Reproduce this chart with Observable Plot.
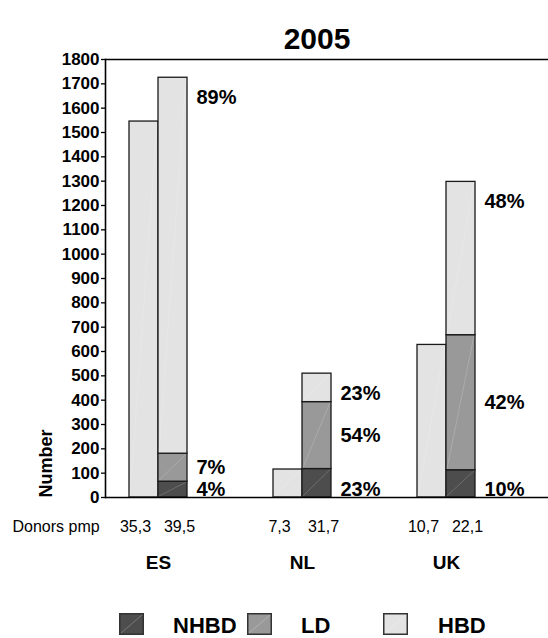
<!DOCTYPE html>
<html>
<head>
<meta charset="utf-8">
<script src="https://cdn.jsdelivr.net/npm/d3@7"></script>
<script src="https://cdn.jsdelivr.net/npm/@observablehq/plot@0.6"></script>
<style>
  html, body { margin: 0; padding: 0; background: #fff; }
  body { width: 548px; height: 638px; overflow: hidden; font-family: "Liberation Sans", Arial, sans-serif; }
  #legend { position: relative; width: 548px; height: 38px; }
  #legend .sw { position: absolute; top: 13px; width: 25px; height: 22px; }
  #legend .lb { position: absolute; top: 15px; font-size: 22px; font-weight: bold; line-height: 22px; color: #000; }
</style>
</head>
<body>
<div id="chart"></div>
<div id="legend"></div>
<script>
// ---- data ----
const title = "2005";
const countries = ["ES", "NL", "UK"];
const types = ["NHBD", "LD", "HBD"];
const typeColors = ["#4d4d4d", "#999999", "#e3e3e3"];
// first bar of each pair: HBD only
const hbdOnly = [1545, 115, 627];
// second bar: stacked NHBD + LD + HBD
const nhbd = [65, 117, 112];
const ld = [115, 275, 555];
const hbd = [1545, 117, 630];
const pctNHBD = ["4%", "23%", "10%"];
const pctLD = ["7%", "54%", "42%"];
const pctHBD = ["89%", "23%", "48%"];
const donorsFirst = ["35,3", "7,3", "10,7"];
const donorsSecond = ["39,5", "31,7", "22,1"];
const donorsLabel = "Donors pmp";
const yTicks = [0, 100, 200, 300, 400, 500, 600, 700, 800, 900, 1000, 1100, 1200, 1300, 1400, 1500, 1600, 1700, 1800];
const yLabel = "Number";

// ---- derived tables ----
const singleBars = countries.map((c, i) => ({country: c, type: "HBD", value: hbdOnly[i]}));
const stacked = [];
countries.forEach((c, i) => {
  const vals = [nhbd[i], ld[i], hbd[i]];
  const pcts = [pctNHBD[i], pctLD[i], pctHBD[i]];
  let start = 0;
  types.forEach((t, j) => {
    const end = start + vals[j];
    const mid = (start + end) / 2;
    // bottom label sits on the axis, middle label at segment centre, top label just below the bar top
    const labelY = j === 0 ? 0 : (j === 2 ? end - 80 : mid);
    stacked.push({country: c, type: t, value: vals[j], pct: pcts[j], labelY, bottom: j === 0});
    start = end;
  });
});
const donorRows = countries.map((c, i) => ({country: c, a: donorsFirst[i], b: donorsSecond[i]}));

const font = "Liberation Sans, Arial, sans-serif";
const barStroke = "#1a1a1a";

const plot = Plot.plot({
  width: 548,
  height: 600,
  marginLeft: 105,
  marginRight: 0,
  marginTop: 59,
  marginBottom: 103,
  style: {fontFamily: font, background: "#fff", color: "#000", overflow: "visible"},
  x: {type: "band", domain: countries, paddingInner: 0.6, paddingOuter: 0.16, insetRight: 50, axis: null},
  y: {domain: [0, 1800], axis: null},
  color: {domain: types, range: typeColors},
  marks: [
    Plot.barY(singleBars, {x: "country", y: "value", fill: "type", stroke: barStroke, strokeWidth: 1.3, insetRight: 29}),
    Plot.barY(stacked, {x: "country", y: "value", fill: "type", stroke: barStroke, strokeWidth: 1.3, insetLeft: 29}),
    Plot.ruleY([0, 1800], {stroke: "#000", strokeWidth: 1.6}),
    Plot.frame({anchor: "left", stroke: "#000", strokeWidth: 1.6}),
    Plot.axisY({ticks: yTicks, tickFormat: d => String(d), tickSize: 4, tickPadding: 2, fontSize: 17, fontWeight: "bold", label: null, stroke: "#000", strokeWidth: 1.3, fill: "#000"}),
    Plot.text([yLabel], {frameAnchor: "bottom-left", rotate: -90, textAnchor: "start", lineAnchor: "middle", dx: -59, dy: 0, fontSize: 18, fontWeight: "bold", fill: "#000"}),
    Plot.text(stacked.filter(d => !d.bottom), {x: "country", y: "labelY", text: "pct", textAnchor: "start", dx: 38, fontSize: 20, fontWeight: "bold", fill: "#000"}),
    Plot.text(stacked.filter(d => d.bottom), {x: "country", y: "labelY", text: "pct", textAnchor: "start", lineAnchor: "bottom", dx: 38, dy: -2, fontSize: 20, fontWeight: "bold", fill: "#000"}),
    Plot.text([donorsLabel], {frameAnchor: "bottom-left", textAnchor: "start", dx: -93, dy: 34, fontSize: 16, fill: "#000"}),
    Plot.text(donorRows, {x: "country", text: "a", frameAnchor: "bottom", dx: -23, dy: 34, fontSize: 16, fill: "#000"}),
    Plot.text(donorRows, {x: "country", text: "b", frameAnchor: "bottom", dx: 21, dy: 34, fontSize: 16, fill: "#000"}),
    Plot.text(countries, {x: d => d, frameAnchor: "bottom", dy: 71, fontSize: 19, fontWeight: "bold", fill: "#000"}),
    Plot.text([title], {frameAnchor: "top", dx: -10, dy: -32, fontSize: 30, fontWeight: "bold", fill: "#000"})
  ]
});

// faint diagonal sheen across each bar segment (as in the original)
plot.querySelectorAll('g[aria-label="bar"] rect').forEach(r => {
  const x = +r.getAttribute("x"), y = +r.getAttribute("y");
  const w = +r.getAttribute("width"), h = +r.getAttribute("height");
  const line = document.createElementNS("http://www.w3.org/2000/svg", "line");
  line.setAttribute("x1", x + 1); line.setAttribute("y1", y + h - 1);
  line.setAttribute("x2", x + w - 1); line.setAttribute("y2", y + 1);
  line.setAttribute("stroke", "#ffffff"); line.setAttribute("stroke-opacity", "0.22");
  line.setAttribute("stroke-width", "0.8");
  r.parentNode.appendChild(line);
});
document.getElementById("chart").appendChild(plot);

// legend
const legendPos = [[119, 173], [247, 301], [383, 438]];
const legend = document.getElementById("legend");
types.forEach((t, i) => {
  const sw = document.createElement("div");
  sw.className = "sw";
  sw.style.left = legendPos[i][0] + "px";
  sw.innerHTML = `<svg width="25" height="22"><rect x="0.75" y="0.75" width="23.5" height="20.5" fill="${typeColors[i]}" stroke="#333" stroke-width="1.5"/><line x1="2" y1="20" x2="23" y2="2" stroke="#fff" stroke-opacity="0.3" stroke-width="0.8"/></svg>`;
  legend.appendChild(sw);
  const lb = document.createElement("div");
  lb.className = "lb";
  lb.style.left = legendPos[i][1] + "px";
  lb.textContent = t;
  legend.appendChild(lb);
});
</script>
</body>
</html>
